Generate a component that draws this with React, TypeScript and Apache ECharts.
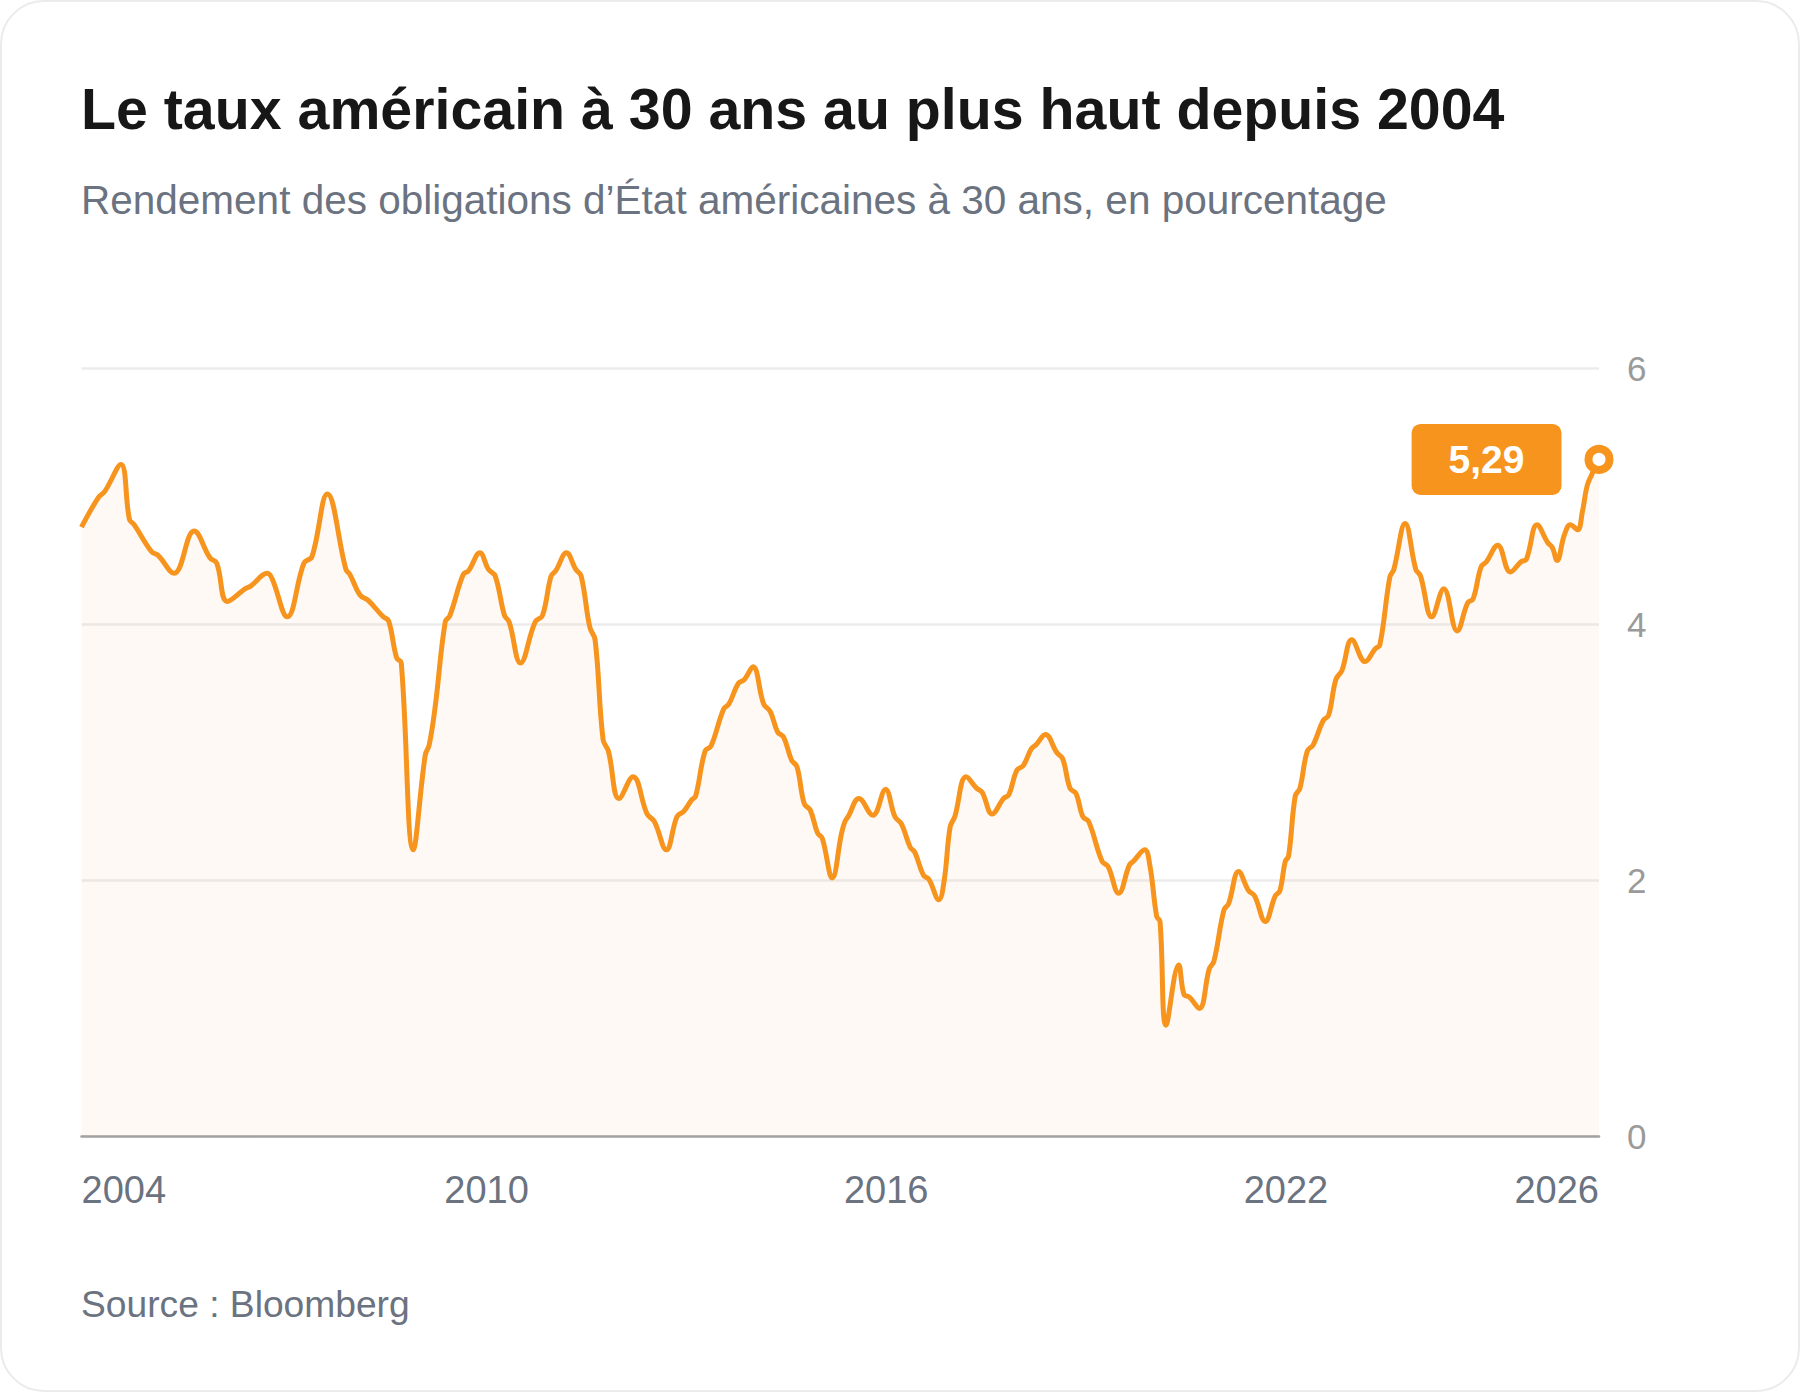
import React, { useEffect, useRef } from "react";
import * as echarts from "echarts";

const TITLE = "Le taux américain à 30 ans au plus haut depuis 2004";
const SUBTITLE = "Rendement des obligations d’État américaines à 30 ans, en pourcentage";
const SOURCE = "Source : Bloomberg";

// decimal years
const dates: number[] = [
  2003.92, 2004.17, 2004.27, 2004.51, 2004.64, 2004.71, 2004.97, 2005.07, 2005.31, 2005.61,
  2005.85, 2005.95, 2006.11, 2006.38, 2006.46, 2006.71, 2006.78, 2007.01, 2007.26, 2007.38,
  2007.61, 2007.89, 2007.95, 2008.10, 2008.22, 2008.45, 2008.53, 2008.65, 2008.72, 2008.90,
  2009.08, 2009.14, 2009.23, 2009.38, 2009.45, 2009.65, 2009.73, 2009.90, 2010.03, 2010.13,
  2010.27, 2010.34, 2010.51, 2010.73, 2010.84, 2010.97, 2011.04, 2011.20, 2011.34, 2011.42,
  2011.55, 2011.63, 2011.75, 2011.83, 2011.99, 2012.20, 2012.41, 2012.52, 2012.70, 2012.86,
  2012.96, 2013.08, 2013.14, 2013.28, 2013.37, 2013.56, 2013.64, 2013.78, 2013.87, 2014.00,
  2014.16, 2014.26, 2014.37, 2014.46, 2014.58, 2014.66, 2014.77, 2014.86, 2014.97, 2015.04,
  2015.19, 2015.33, 2015.38, 2015.43, 2015.59, 2015.80, 2015.99, 2016.13, 2016.23, 2016.36,
  2016.43, 2016.56, 2016.64, 2016.79, 2016.87, 2016.96, 2017.03, 2017.20, 2017.36, 2017.44,
  2017.59, 2017.76, 2017.84, 2017.96, 2018.06, 2018.18, 2018.25, 2018.39, 2018.56, 2018.65,
  2018.76, 2018.85, 2018.95, 2019.04, 2019.24, 2019.33, 2019.49, 2019.65, 2019.71, 2019.88,
  2019.96, 2020.06, 2020.11, 2020.20, 2020.39, 2020.47, 2020.55, 2020.70, 2020.85, 2020.92,
  2021.07, 2021.14, 2021.29, 2021.44, 2021.53, 2021.69, 2021.84, 2021.91, 2021.99, 2022.04,
  2022.14, 2022.21, 2022.32, 2022.41, 2022.56, 2022.64, 2022.75, 2022.84, 2022.99, 2023.19,
  2023.34, 2023.41, 2023.56, 2023.62, 2023.79, 2023.95, 2024.02, 2024.19, 2024.37, 2024.57,
  2024.73, 2024.81, 2024.93, 2025.01, 2025.18, 2025.37, 2025.53, 2025.61, 2025.77, 2025.93,
  2026.00, 2026.07, 2026.18, 2026.27, 2026.38, 2026.45, 2026.52, 2026.59, 2026.70,
];

const yields: number[] = [
  4.76, 4.99, 5.04, 5.25, 4.82, 4.78, 4.57, 4.54, 4.40, 4.73,
  4.52, 4.48, 4.18, 4.28, 4.30, 4.40, 4.36, 4.06, 4.48, 4.53,
  5.02, 4.43, 4.39, 4.23, 4.19, 4.06, 4.03, 3.74, 3.70, 2.24,
  2.98, 3.06, 3.36, 4.02, 4.07, 4.39, 4.42, 4.56, 4.43, 4.38,
  4.07, 4.02, 3.70, 4.02, 4.07, 4.38, 4.42, 4.56, 4.43, 4.38,
  3.98, 3.88, 3.10, 3.01, 2.64, 2.81, 2.52, 2.46, 2.24, 2.50,
  2.54, 2.63, 2.66, 3.01, 3.05, 3.34, 3.38, 3.54, 3.57, 3.67,
  3.38, 3.32, 3.16, 3.12, 2.94, 2.89, 2.60, 2.55, 2.37, 2.33,
  2.02, 2.37, 2.46, 2.50, 2.64, 2.51, 2.71, 2.50, 2.44, 2.26,
  2.22, 2.04, 2.01, 1.85, 2.00, 2.42, 2.50, 2.81, 2.72, 2.69,
  2.52, 2.64, 2.67, 2.86, 2.90, 3.03, 3.06, 3.14, 3.00, 2.95,
  2.72, 2.68, 2.50, 2.46, 2.15, 2.11, 1.90, 2.12, 2.15, 2.24,
  2.11, 1.72, 1.68, 0.87, 1.34, 1.11, 1.09, 1.00, 1.31, 1.37,
  1.77, 1.82, 2.07, 1.92, 1.88, 1.68, 1.88, 1.92, 2.15, 2.19,
  2.66, 2.72, 3.01, 3.06, 3.25, 3.29, 3.57, 3.64, 3.88, 3.71,
  3.81, 3.84, 4.37, 4.43, 4.79, 4.43, 4.38, 4.06, 4.28, 3.95,
  4.17, 4.20, 4.45, 4.49, 4.62, 4.41, 4.49, 4.51, 4.78, 4.64,
  4.60, 4.50, 4.70, 4.78, 4.74, 4.88, 5.08, 5.17, 5.29,
];

const xTickValues: number[] = [2003.92, 2010, 2016, 2022, 2026.7];
const xTickLabels: string[] = ["2004", "2010", "2016", "2022", "2026"];
const yTicks: number[] = [0, 2, 4, 6];

const ORANGE = "#F7941D";
const FONT = "'Liberation Sans', Arial, Helvetica, sans-serif";

export default function App() {
  const ref = useRef<HTMLDivElement>(null);

  useEffect(() => {
    if (!ref.current) return;
    const chart = echarts.init(ref.current, undefined, { renderer: "svg" });
    const seriesData = dates.map((d, i) => [d, yields[i]]);
    const last = seriesData[seriesData.length - 1];

    chart.setOption({
      animation: false,
      textStyle: { fontFamily: FONT },
      grid: { left: 81.5, right: 201, top: 368.5, bottom: 255.5, containLabel: false },
      graphic: [
        {
          type: "text",
          style: {
            text: TITLE,
            x: 81,
            y: 109,
            fill: "#171717",
            font: `bold 57.3px ${FONT}`,
            verticalAlign: "middle",
          },
        },
        {
          type: "text",
          style: {
            text: SUBTITLE,
            x: 81,
            y: 199.5,
            fill: "#6b7280",
            font: `40.5px ${FONT}`,
            verticalAlign: "middle",
          },
        },
        {
          type: "text",
          style: {
            text: SOURCE,
            x: 81,
            y: 1304,
            fill: "#6b7280",
            font: `37.2px ${FONT}`,
            verticalAlign: "middle",
          },
        },
      ],
      xAxis: {
        type: "value",
        min: xTickValues[0],
        max: xTickValues[xTickValues.length - 1],
        axisLine: { show: true, lineStyle: { color: "#a3a3a3", width: 2.5 } },
        axisTick: { show: false },
        splitLine: { show: false },
        axisLabel: {
          customValues: xTickValues,
          showMinLabel: true,
          showMaxLabel: true,
          alignMinLabel: "left",
          alignMaxLabel: "right",
          margin: 34,
          fontSize: 38,
          color: "#6b7280",
          fontFamily: FONT,
          formatter: (v: number) => {
            const i = xTickValues.findIndex((t) => Math.abs(t - v) < 1e-6);
            return i >= 0 ? xTickLabels[i] : "";
          },
        },
      },
      yAxis: {
        type: "value",
        position: "right",
        min: yTicks[0],
        max: yTicks[yTicks.length - 1],
        interval: 2,
        axisLine: { show: false },
        axisTick: { show: false },
        axisLabel: {
          margin: 28,
          fontSize: 35,
          color: "#9a9a9a",
          fontFamily: FONT,
        },
        splitLine: { lineStyle: { color: "#ececec", width: 2.5 } },
      },
      series: [
        {
          type: "line",
          data: seriesData,
          smooth: 0.4,
          showSymbol: false,
          lineStyle: { color: ORANGE, width: 5 },
          areaStyle: { color: "rgba(240,135,60,0.075)", origin: "start" },
          z: 2,
        },
        {
          type: "scatter",
          data: [last],
          symbol: "circle",
          symbolSize: 21,
          itemStyle: { color: "#ffffff", borderColor: ORANGE, borderWidth: 8, opacity: 1 },
          z: 5,
          label: {
            show: true,
            position: "left",
            distance: 23,
            formatter: (p: any) => p.value[1].toFixed(2).replace(".", ","),
            backgroundColor: ORANGE,
            borderRadius: 9,
            padding: [16, 37],
            color: "#ffffff",
            fontSize: 39,
            lineHeight: 39,
            fontWeight: "bold",
            fontFamily: FONT,
          },
        },
      ],
    });

    return () => chart.dispose();
  }, []);

  return (
    <div style={{ position: "absolute", left: 0, top: 0, width: 1800, height: 1392, background: "#fff" }}>
      <div
        style={{
          position: "absolute",
          left: 0,
          top: 0,
          width: 1800,
          height: 1392,
          boxSizing: "border-box",
          border: "2.5px solid #ebebeb",
          borderRadius: 44,
          background: "#fff",
        }}
      />
      <div ref={ref} style={{ position: "absolute", left: 0, top: 0, width: 1800, height: 1392 }} />
    </div>
  );
}
